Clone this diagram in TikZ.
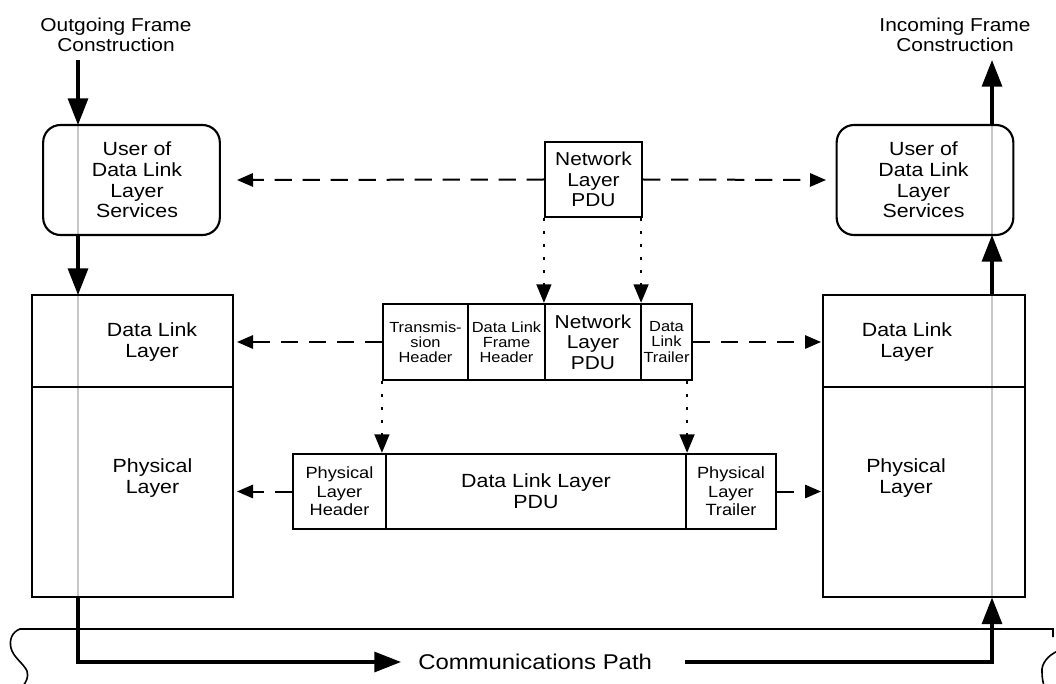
\documentclass[tikz,border=0pt]{standalone}
\usepackage{fontspec}
\setmainfont{Liberation Sans}[FakeStretch=1.12]
\usetikzlibrary{arrows.meta}
\newcommand{\myfTop}{\fontsize{14}{15}\selectfont}
\newcommand{\myfBig}{\fontsize{14.3}{15.5}\selectfont}
\newcommand{\myfNet}{\fontsize{14}{15.5}\selectfont}
\newcommand{\myfSm}{\fontsize{11}{11.3}\selectfont}
\newcommand{\myfMd}{\fontsize{12.2}{14}\selectfont}
\newcommand{\myfPath}{\fontsize{16}{18}\selectfont}
\begin{document}
\begin{tikzpicture}[x=0.75pt,y=-0.75pt,
  box/.style={draw, line width=1.6pt, inner sep=0pt, align=center},
  ubox/.style={box, rounded corners=13pt, minimum width=132.5pt, minimum height=82.5pt},
  lbl/.style={inner sep=0pt, align=center},
  fat/.style={line width=2.4pt, -{Triangle[length=20pt,width=15pt]}},
  dsh/.style={line width=1.5pt, dash pattern=on 13pt off 8pt, -{Triangle[length=12pt,width=10pt]}},
  dts/.style={line width=2pt, dash pattern=on 2pt off 7.75pt, -{Triangle[length=14pt,width=11pt]}},
  gline/.style={line width=2pt, draw=black!22},
  brace/.style={line width=1.2pt}]
\useasboundingbox (0,0) rectangle (1056,684);

% gray through-lines
\draw[gline] (78,125) -- (78,597);
\draw[gline] (992,125) -- (992,597);

% top labels
\node[lbl, font=\myfTop] (outlbl) at (116,35) {Outgoing Frame\\Construction};
\node[lbl, font=\myfTop] (inlbl) at (955,35) {Incoming Frame\\Construction};

% user boxes
\node[ubox] (userL) at (131.5,180) {};
\node[lbl, font=\myfBig] (userLt) at (137,180) {User of\\Data Link\\Layer\\Services};
\node[ubox] (userR) at (925,180) {};
\node[lbl, font=\myfBig] (userRt) at (923.5,180) {User of\\Data Link\\Layer\\Services};

% layer stacks
\node[box, minimum width=150.75pt, minimum height=69pt] (dllL) at (132.5,341) {};
\node[box, minimum width=150.75pt, minimum height=157.5pt] (phyL) at (132.5,492) {};
\node[box, minimum width=151.5pt, minimum height=69pt] (dllR) at (924,341) {};
\node[box, minimum width=151.5pt, minimum height=157.5pt] (phyR) at (924,492) {};
\node[lbl, font=\myfBig] (dllLt) at (152,342) {Data Link\\Layer};
\node[lbl, font=\myfBig] (phyLt) at (152.5,478) {Physical\\Layer};
\node[lbl, font=\myfBig] (dllRt) at (907,342) {Data Link\\Layer};
\node[lbl, font=\myfBig] (phyRt) at (906,478) {Physical\\Layer};

% network layer PDU (top)
\node[box, font=\myfNet, minimum width=72.75pt, minimum height=56.25pt] (nlTop) at (593.5,179.5) {Network\\Layer\\PDU};

% data link frame (middle row)
\node[box, font=\myfSm, minimum width=63.75pt, minimum height=57pt] (th) at (425.5,342) {Transmis-\\sion\\Header};
\node[box, font=\myfSm, minimum width=57.75pt, minimum height=57pt] (dlfh) at (506.5,342) {Data Link\\Frame\\Header};
\node[box, font=\myfNet, minimum width=72pt, minimum height=57pt] (nlm) at (593,342) {Network\\Layer\\PDU};
\node[box, font=\myfSm, minimum width=38.25pt, minimum height=57pt] (dlt) at (666.5,342) {Data\\Link\\Trailer};

% physical frame (bottom row)
\node[box, font=\myfMd, minimum width=69.75pt, minimum height=56.25pt] (plh) at (339.5,491.5) {Physical\\Layer\\Header};
\node[box, font=\myfBig, minimum width=225pt, minimum height=56.25pt] (dllpdu) at (536,491.5) {Data Link Layer\\PDU};
\node[box, font=\myfMd, minimum width=67.5pt, minimum height=56.25pt] (plt) at (731,491.5) {Physical\\Layer\\Trailer};

% dashed arrows
\coordinate (tL) at (237,180);
\coordinate (tR) at (826,180);
\coordinate (mL) at (237,342);
\coordinate (mR) at (821,342);
\coordinate (bL) at (237,491.5);
\coordinate (bR) at (821,491.5);
\draw[dsh] (nlTop.west) -- (tL);
\draw[dsh] (nlTop.east) -- (tR);
\draw[dsh] (th.west) -- (mL);
\draw[dsh] (dlt.east) -- (mR);
\draw[dsh] (plh.west) -- (bL);
\draw[dsh] (plt.east) -- (bR);

% dotted arrows
\draw[dts] (nlTop.south west) -- (nlm.north west);
\draw[dts] ([xshift=-1.5pt]nlTop.south east) -- ([xshift=-0.75pt]nlm.north east);
\draw[dts] (th.south west) -- (th.south west |- dllpdu.north);
\draw[dts] (dllpdu.north east |- dlt.south) -- (dllpdu.north east);

% thick flow arrows
\coordinate (inTop) at (78,60);
\coordinate (outTop) at (992,60);
\draw[fat] (inTop) -- (78,125);
\draw[fat] (78,235) -- (78,295);
\draw[fat] (992,295) -- (992,235);
\draw[fat] (992,125) -- (outTop);

% communications path
\node[lbl, font=\myfPath, anchor=west] (cpath) at (418,662) {Communications Path};
\draw[fat] (78,597) -- (78,662) -- (401,662);
\draw[line width=2.4pt, -{Triangle[length=20pt,width=15pt]}] (685,662) -- (992,662) -- (992,597.5);

% medium brace
\draw[brace] (1053,637) -- (1053,629) -- (20,629)
  .. controls (12,632) and (9,640) .. (11,648)
  .. controls (13,657) and (24,664) .. (27,671)
  .. controls (29,677) and (26,682) .. (23,686);
\draw[brace] (1058,651) .. controls (1048,655) and (1041,664) .. (1042,672)
  .. controls (1042,678) and (1043,682) .. (1044,686);
\end{tikzpicture}
\end{document}
